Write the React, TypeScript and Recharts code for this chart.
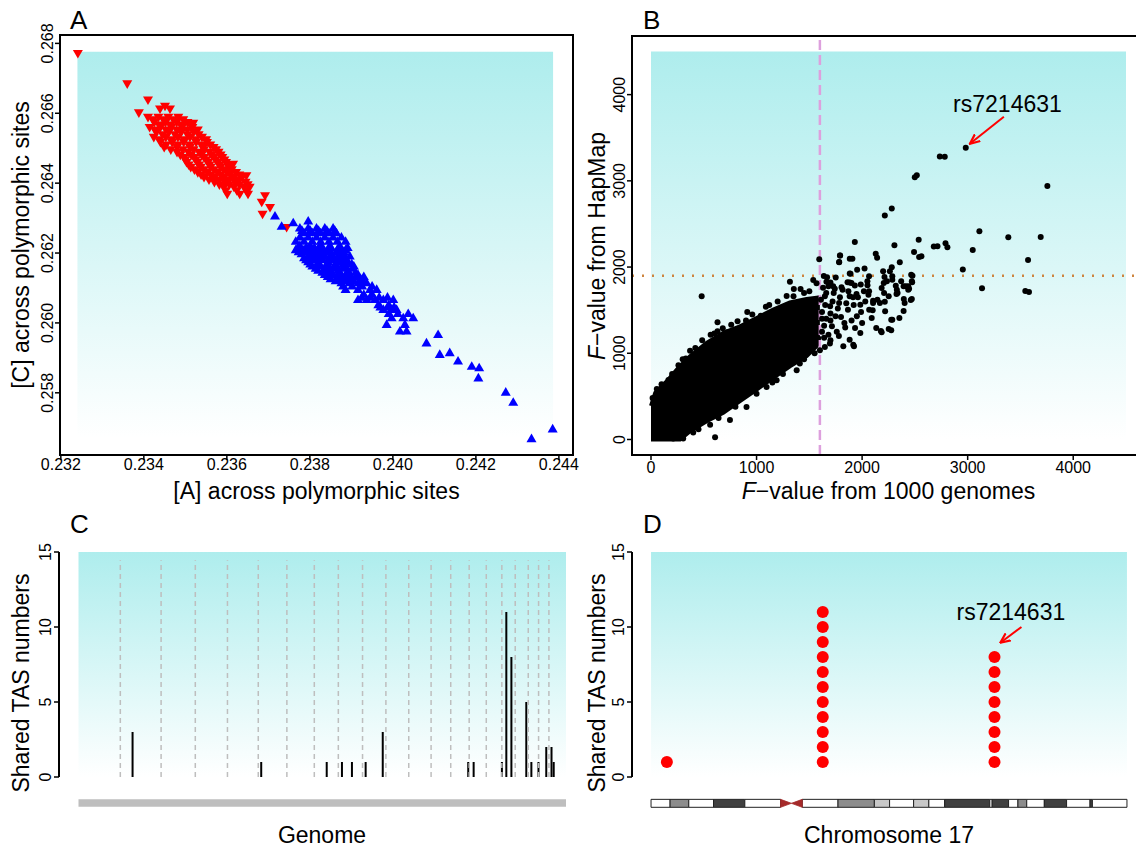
import React from "react";
import {
  ComposedChart,
  Scatter,
  Area,
  Bar,
  XAxis,
  YAxis,
  ReferenceArea,
  ReferenceLine,
} from "recharts";

const FONT = '"Liberation Sans", Arial, Helvetica, sans-serif';
const TOP = "#AEEDED";

// ---------- A: base composition, [A] vs [C]
const redA: number[][] = [
  [0.23241, 0.26773], [0.2336, 0.26686], [0.2341, 0.2664], [0.23388, 0.26603], [0.23519, 0.26573],
  [0.23439, 0.26614], [0.23463, 0.26614], [0.23451, 0.26622],
  [0.2341, 0.2659], [0.23435, 0.2659], [0.23459, 0.2659], [0.23483, 0.2659],
  [0.23422, 0.26583], [0.23447, 0.26583], [0.23471, 0.26583], [0.23495, 0.26583],
  [0.23425, 0.26575], [0.23452, 0.26575], [0.23479, 0.26575], [0.23505, 0.26575],
  [0.23438, 0.26568], [0.23465, 0.26568], [0.23492, 0.26568], [0.23512, 0.26568],
  [0.23414, 0.26561], [0.2344, 0.26561], [0.23466, 0.26561], [0.23492, 0.26561], [0.23517, 0.26561],
  [0.23427, 0.26554], [0.23453, 0.26554], [0.23479, 0.26554], [0.23505, 0.26554], [0.2353, 0.26554],
  [0.2343, 0.26547], [0.2346, 0.26547], [0.2349, 0.26547], [0.2352, 0.26547],
  [0.23445, 0.2654], [0.23475, 0.2654], [0.23505, 0.2654], [0.23532, 0.2654],
  [0.23424, 0.26533], [0.23453, 0.26533], [0.23482, 0.26533], [0.23511, 0.26533], [0.2354, 0.26533],
  [0.23438, 0.26526], [0.23467, 0.26526], [0.23496, 0.26526], [0.23525, 0.26526], [0.2355, 0.26526],
  [0.2344, 0.26518], [0.23468, 0.26518], [0.23496, 0.26518], [0.23526, 0.26518], [0.23552, 0.26518],
  [0.23454, 0.26511], [0.23482, 0.26511], [0.23511, 0.26511], [0.23539, 0.26511], [0.2356, 0.26511],
  [0.23449, 0.26504], [0.2348, 0.26504], [0.23511, 0.26504], [0.23542, 0.26504], [0.23568, 0.26504],
  [0.23465, 0.26497], [0.23494, 0.26497], [0.2352, 0.26497], [0.23545, 0.26497], [0.23574, 0.26497],
  [0.2348, 0.2649], [0.23507, 0.2649], [0.23533, 0.2649], [0.23558, 0.2649], [0.2358, 0.2649],
  [0.23488, 0.26482], [0.23514, 0.26482], [0.23539, 0.26482], [0.23563, 0.26482], [0.23585, 0.26482],
  [0.23497, 0.26475], [0.23521, 0.26475], [0.23545, 0.26475], [0.23569, 0.26475], [0.23589, 0.26475],
  [0.235, 0.26468], [0.23525, 0.26468], [0.2355, 0.26468], [0.23573, 0.26468], [0.23594, 0.26468],
  [0.23503, 0.26461], [0.23529, 0.26461], [0.23555, 0.26461], [0.23578, 0.26461], [0.23598, 0.26461],
  [0.23508, 0.26454], [0.23533, 0.26454], [0.23558, 0.26454], [0.23582, 0.26454], [0.23602, 0.26454],
  [0.23513, 0.26447], [0.23537, 0.26447], [0.23561, 0.26447], [0.23585, 0.26447], [0.23605, 0.26447],
  [0.23522, 0.2644], [0.23545, 0.2644], [0.23569, 0.2644], [0.23592, 0.2644], [0.23612, 0.2644],
  [0.2353, 0.26432], [0.23553, 0.26432], [0.23577, 0.26432], [0.236, 0.26432], [0.23622, 0.26432],
  [0.23538, 0.26425], [0.23561, 0.26425], [0.23585, 0.26425], [0.23608, 0.26425], [0.2363, 0.26425],
  [0.23545, 0.26418], [0.23569, 0.26418], [0.23593, 0.26418], [0.23617, 0.26418], [0.23637, 0.26418],
  [0.23557, 0.26411], [0.23582, 0.26411], [0.23606, 0.26411], [0.2363, 0.26411],
  [0.2357, 0.26404], [0.23595, 0.26404], [0.2362, 0.26404], [0.23645, 0.26404],
  [0.23582, 0.26397], [0.23606, 0.26397], [0.2363, 0.26397], [0.2365, 0.26397],
  [0.23593, 0.2639], [0.23617, 0.2639], [0.23641, 0.2639], [0.23655, 0.2639],
  [0.23597, 0.2638], [0.23624, 0.2638], [0.23647, 0.2638],
  [0.23601, 0.2637], [0.23631, 0.2637], [0.23651, 0.2637],
  [0.23615, 0.26456], [0.23647, 0.26423], [0.23692, 0.26366], [0.23684, 0.26347],
  [0.23704, 0.26332], [0.23686, 0.26313], [0.23744, 0.26275],
];

const blueA: number[][] = [
  [0.23716, 0.26304], [0.23732, 0.26275], [0.2376, 0.26285], [0.23796, 0.2629],
  [0.23776, 0.2627], [0.23796, 0.2627], [0.23816, 0.2627], [0.23836, 0.2627], [0.23856, 0.2627],
  [0.23781, 0.26263], [0.23801, 0.26263], [0.23821, 0.26263], [0.23841, 0.26263], [0.2386, 0.26263],
  [0.23786, 0.26256], [0.23806, 0.26256], [0.23826, 0.26256], [0.23846, 0.26256], [0.23864, 0.26256],
  [0.23776, 0.26244], [0.23796, 0.26244], [0.23816, 0.26244], [0.23836, 0.26244], [0.23856, 0.26244], [0.23876, 0.26244],
  [0.23766, 0.26232], [0.23786, 0.26232], [0.23806, 0.26232], [0.23826, 0.26232], [0.23846, 0.26232], [0.23866, 0.26232], [0.23886, 0.26232],
  [0.23776, 0.2622], [0.238, 0.2622], [0.23824, 0.2622], [0.23848, 0.2622], [0.23872, 0.2622],
  [0.23771, 0.26214], [0.23791, 0.26214], [0.23811, 0.26214], [0.23831, 0.26214], [0.23851, 0.26214], [0.23871, 0.26214], [0.23891, 0.26214],
  [0.23766, 0.26208], [0.23786, 0.26208], [0.23806, 0.26208], [0.23826, 0.26208], [0.23846, 0.26208], [0.23866, 0.26208], [0.23886, 0.26208],
  [0.23773, 0.26202], [0.23792, 0.26202], [0.23816, 0.26202], [0.2384, 0.26202], [0.23864, 0.26202], [0.23882, 0.26202],
  [0.2378, 0.26196], [0.23804, 0.26196], [0.23828, 0.26196], [0.23852, 0.26196], [0.23876, 0.26196],
  [0.23796, 0.2619], [0.23816, 0.2619], [0.23836, 0.2619], [0.23856, 0.2619], [0.23876, 0.2619], [0.23896, 0.2619],
  [0.23786, 0.26185], [0.23806, 0.26185], [0.23826, 0.26185], [0.23846, 0.26185], [0.23866, 0.26185], [0.23886, 0.26185],
  [0.23791, 0.26179], [0.23811, 0.26179], [0.23831, 0.26179], [0.23856, 0.26179], [0.2388, 0.26179],
  [0.23796, 0.26173], [0.2382, 0.26173], [0.23844, 0.26173], [0.23868, 0.26173], [0.23892, 0.26173],
  [0.23801, 0.26167], [0.23821, 0.26167], [0.23841, 0.26167], [0.23861, 0.26167], [0.23881, 0.26167], [0.23901, 0.26167],
  [0.23806, 0.26161], [0.23826, 0.26161], [0.23846, 0.26161], [0.23866, 0.26161], [0.23886, 0.26161], [0.23906, 0.26161],
  [0.23814, 0.26155], [0.23836, 0.26155], [0.23856, 0.26155], [0.2388, 0.26155], [0.23904, 0.26155],
  [0.2382, 0.26149], [0.23844, 0.26149], [0.23868, 0.26149], [0.23892, 0.26149],
  [0.2383, 0.26143], [0.2385, 0.26143], [0.2387, 0.26143], [0.2389, 0.26143], [0.2391, 0.26143],
  [0.23836, 0.26137], [0.23856, 0.26137], [0.23876, 0.26137], [0.23896, 0.26137], [0.23916, 0.26137],
  [0.23843, 0.26131], [0.23866, 0.26131], [0.23886, 0.26131], [0.2391, 0.26131], [0.2393, 0.26131],
  [0.2385, 0.26125], [0.23874, 0.26125], [0.23898, 0.26125], [0.23922, 0.26125],
  [0.23862, 0.26119], [0.23886, 0.26119], [0.23906, 0.26119], [0.23928, 0.26119],
  [0.23876, 0.26113], [0.23896, 0.26113], [0.23916, 0.26113], [0.23937, 0.26113],
  [0.2388, 0.26104], [0.23902, 0.26104], [0.23926, 0.26104], [0.2395, 0.26104],
  [0.23886, 0.26094], [0.23916, 0.26094], [0.23945, 0.26094], [0.23961, 0.26094],
  [0.2393, 0.2608], [0.2395, 0.2608],
  [0.23925, 0.26072], [0.23945, 0.26072], [0.23967, 0.26072], [0.23987, 0.26072],
  [0.23916, 0.26065], [0.23937, 0.26065], [0.23957, 0.26065], [0.23977, 0.26065], [0.24001, 0.26065],
  [0.23965, 0.2605], [0.2399, 0.2605],
  [0.2397, 0.26044], [0.23988, 0.26044], [0.24003, 0.26044],
  [0.23977, 0.26037], [0.23997, 0.26037], [0.24009, 0.26037],
  [0.2399, 0.26025], [0.24012, 0.26025], [0.24037, 0.26025],
  [0.23997, 0.26013], [0.24025, 0.26013], [0.24049, 0.26013],
  [0.23985, 0.25994], [0.24029, 0.25994], [0.24017, 0.25975], [0.24033, 0.25975],
  [0.24081, 0.25941], [0.24109, 0.25965], [0.24113, 0.25908], [0.24137, 0.25913],
  [0.24157, 0.25889], [0.2419, 0.25874], [0.24208, 0.2587], [0.24206, 0.25841],
  [0.24272, 0.258], [0.2429, 0.25771], [0.24334, 0.25667], [0.24385, 0.25695],
];

const ticksAX = [0.232, 0.234, 0.236, 0.238, 0.24, 0.242, 0.244];
const ticksAY = [0.258, 0.26, 0.262, 0.264, 0.266, 0.268];

// ---------- B: F-values, 1000 genomes vs HapMap
// dense core of the cloud: x, lower edge, upper edge
const coreX = [0, 40, 150, 245, 275, 370, 527, 685, 843, 1001, 1158, 1316, 1474, 1569, 1600];
const coreLo = [0, 0, 0, 0, 0, 96, 212, 309, 444, 579, 715, 849, 965, 1081, 1200];
const coreHi = [390, 540, 676, 811, 850, 965, 1120, 1236, 1313, 1410, 1506, 1590, 1630, 1645, 1650];

const pointsB: number[][] = [
  [480, 1660], [607, 25],
  [15, 480], [55, 585], [165, 690], [300, 930], [370, 1030], [485, 1150], [565, 1215], [630, 1255],
  [630, 1360], [722, 1245], [912, 1480], [1088, 1540], [1040, 1435], [900, 1380], [1316, 1830],
  [1353, 1745], [1417, 1745], [1285, 1665], [1537, 1850], [1568, 1812], [1594, 2090], [1790, 2135],
  [1783, 2060], [1883, 2097], [1637, 1895], [1662, 1830], [1883, 1925],
  [100, 640], [200, 760], [260, 860], [330, 940], [420, 1060], [600, 1230], [680, 1290], [760, 1330],
  [820, 1370], [960, 1450], [1120, 1560], [1200, 1600], [1350, 1660], [1450, 1700], [1500, 1720],
  [210, 10], [305, 10], [748, 225], [905, 378], [1095, 610], [1190, 688], [1380, 802], [1410, 880],
  [1520, 1035], [1600, 1035], [1647, 1073], [1695, 1112],
  [400, 80], [450, 120], [560, 170], [640, 250], [800, 380], [1000, 530], [1150, 660], [1250, 760],
  [1450, 930], [1550, 1000],
  [1620, 1250], [1640, 1320], [1660, 1400], [1620, 1480], [1650, 1560], [1700, 1380], [1700, 1460],
  [1720, 1600], [1760, 1250], [1770, 1520], [1790, 1650], [1800, 1420], [1840, 1300], [1850, 1580],
  [1870, 1720], [1900, 1380], [1920, 1560], [1960, 1650], [1990, 1480], [2000, 1350], [2030, 1600],
  [2060, 1680], [2100, 1500], [1640, 1180], [1700, 1150], [1780, 1200], [1610, 1620], [1660, 1700],
  [1630, 1760], [1700, 1820], [1750, 1880], [1620, 1400],
  [1647, 1660], [1681, 1776], [1697, 1544], [1731, 1699], [1748, 1429], [1782, 1583], [1815, 1737],
  [1832, 1351], [1866, 1506], [1882, 1660], [1899, 1815], [1933, 1293], [1950, 1429], [1983, 1564],
  [2017, 1718], [2050, 1834], [2067, 1506], [2091, 1409], [2134, 1293], [2168, 1583], [2185, 1757],
  [2218, 1486], [2252, 1660], [2286, 1390], [2329, 1737], [2370, 1834], [2403, 1583], [2437, 1737],
  [2471, 1629], [2393, 1490], [2252, 1282], [2185, 1243], [2276, 1266], [2178, 1259], [1923, 1081],
  [1822, 1081], [1916, 1100], [1681, 1216], [1714, 1313], [1882, 1158], [1983, 1236], [2353, 1409],
  [2276, 1390], [2104, 1583], [2145, 1622], [2208, 1699], [2336, 1699], [2319, 1784], [2393, 1776],
  [2437, 1776], [2471, 1834], [2286, 1853], [2286, 1892], [2235, 1834], [2205, 1815], [2212, 1884],
  [2982, 3384], [2736, 3282], [2783, 3279], [2499, 3042], [2518, 3065], [3755, 2940], [2215, 2598],
  [2281, 2680], [3111, 2415], [3385, 2345], [3692, 2349], [1931, 2291], [2536, 2318], [2306, 2252],
  [2679, 2237], [2714, 2240], [2790, 2275], [2808, 2229], [3048, 2198], [3572, 2081], [2954, 1972],
  [3136, 1754], [3546, 1723], [3581, 1712], [2492, 2174], [2540, 2116], [2562, 2124], [2357, 2057],
  [1792, 2135], [1782, 2057], [1908, 2097], [2023, 1984], [2129, 2155], [2142, 2108], [2281, 1999],
  [2263, 1952], [1890, 1922], [2465, 1910], [2477, 1898], [1953, 1968], [1668, 1882], [2066, 1894],
  [2199, 1952], [2474, 1824], [2414, 1777], [2445, 1747], [2326, 1688], [2395, 1630], [2461, 1618],
  [2215, 1599], [1883, 1820], [1987, 1797], [1931, 1785], [1947, 1688], [1914, 1649], [1726, 1777],
  [1741, 1747], [1805, 1766], [1862, 1824], [2051, 1789], [2066, 1719], [2104, 1610],
];
const ticksB = [0, 1000, 2000, 3000, 4000];
const cutoff1000G = 1600;
const cutoffHapMap = 1900;
const snpB = { label: "rs7214631", x: 3377, y: 3801 };
const arrowB = [[3343, 3743], [3021, 3430]];

// ---------- C: shared TAS numbers along the genome (Mb)
const chrEnds = [247, 488, 690, 880, 1062, 1231, 1393, 1535, 1678, 1816, 1951, 2083, 2199, 2308, 2409, 2501, 2580, 2657, 2718, 2779];
const genomeLen = 2880;
const tasPos = [320, 1080, 1467, 1557, 1616, 1697, 1798, 2303, 2335, 2502, 2528, 2558, 2646, 2676, 2718, 2764, 2795, 2808];
const tasNum = [3, 1, 1, 1, 1, 1, 3, 1, 1, 1, 11, 8, 5, 1, 1, 2, 2, 1];
const ticksTAS = [0, 5, 10, 15];

// ---------- D: chromosome 17 (Mb)
const chr17Pos = [2.7, 29.3, 58.6];
const chr17Num = [1, 11, 8];
const chr17Len = 81.2;
const snpD = { label: "rs7214631", x: 61.4, y: 10.47 };
const arrowD = [[63.2, 10.0], [59.6, 8.95]];
const bandStart = [0, 3.25, 6.44, 10.66, 16.0, 25.8, 31.9, 38.1, 40.7, 44.8, 47.4, 50.1, 57.8, 58.2, 61.0, 62.6, 64.1, 67.1, 70.9, 74.9, 75.3];
const bandEnd = [3.25, 6.44, 10.66, 16.0, 22.1, 31.9, 38.1, 40.7, 44.8, 47.4, 50.1, 57.8, 58.2, 61.0, 62.6, 64.1, 67.1, 70.9, 74.9, 75.3, 81.2];
const bandStain = ["gneg", "gpos50", "gneg", "gpos75", "gneg", "gneg", "gpos50", "gpos25", "gneg", "gpos25", "gneg", "gpos75", "gneg", "gpos75", "gneg", "gpos50", "gneg", "gpos75", "gneg", "gpos75", "gneg"];
const centromere = [22.1, 25.8];

const STAIN: Record<string, string> = { gneg: "#FFFFFF", gpos25: "#C8C8C8", gpos50: "#8C8C8C", gpos75: "#404040" };

const ptsRed = redA.map(([x, y]) => ({ x, y }));
const ptsBlue = blueA.map(([x, y]) => ({ x, y }));
const ptsB = pointsB.map(([x, y]) => ({ x, y }));
const coreData = coreX.map((x, i) => ({ x, band: [coreLo[i], coreHi[i]] }));
const barData = tasPos.map((x, i) => ({ x, n: tasNum[i] }));
const dotsD = chr17Pos.flatMap((x, i) => Array.from({ length: chr17Num[i] }, (_, k) => ({ x, y: k + 1 })));

const xTick = (fmt: (v: number) => string, dy: number) => (p: any) => (
  <text x={p.x} y={p.y + dy} textAnchor="middle" fontSize={16} fontFamily={FONT} fill="#000">
    {fmt(p.payload.value)}
  </text>
);
const yTick = (fmt: (v: number) => string) => (p: any) => (
  <text x={p.x} y={p.y} transform={`rotate(-90 ${p.x} ${p.y})`} textAnchor="middle" fontSize={16} fontFamily={FONT} fill="#000">
    {fmt(p.payload.value)}
  </text>
);
const triDown = (p: any) => (
  <path d={`M${p.cx - 5},${p.cy - 2.9}L${p.cx + 5},${p.cy - 2.9}L${p.cx},${p.cy + 5.7}Z`} fill="#FF0000" />
);
const triUp = (p: any) => (
  <path d={`M${p.cx - 5},${p.cy + 2.9}L${p.cx + 5},${p.cy + 2.9}L${p.cx},${p.cy - 5.7}Z`} fill="#0000FF" />
);
const dot = (r: number, fill: string) => (p: any) => <circle cx={p.cx} cy={p.cy} r={r} fill={fill} />;
const labelShape = (p: any) => (
  <text x={p.cx} y={p.cy} textAnchor="middle" fontSize={23} fontFamily={FONT} fill="#000">
    {p.payload.label}
  </text>
);

function Defs({ id }: { id: string }) {
  return (
    <defs>
      <linearGradient id={"g" + id} x1="0" y1="0" x2="0" y2="1">
        <stop offset="0" stopColor={TOP} />
        <stop offset="1" stopColor="#FFFFFF" />
      </linearGradient>
      <marker id={"arr" + id} viewBox="0 0 10 10" refX="9" refY="5" markerWidth="11" markerHeight="11" markerUnits="userSpaceOnUse" orient="auto">
        <path d="M0,1 L9,5 L0,9" fill="none" stroke="#FF0000" strokeWidth="2" />
      </marker>
    </defs>
  );
}

function Lab({ x, y, size = 23, rot = false, children }: any) {
  return (
    <div
      style={{
        position: "absolute", left: x, top: y, fontSize: size, lineHeight: 1, whiteSpace: "nowrap",
        transform: `translate(-50%, -50%)${rot ? " rotate(-90deg)" : ""}`, fontFamily: FONT, color: "#000",
      }}
    >
      {children}
    </div>
  );
}
function Letter({ x, y, children }: any) {
  return (
    <div style={{ position: "absolute", left: x, top: y, fontSize: 26, lineHeight: 1, fontFamily: FONT }}>{children}</div>
  );
}

const tickLine = { stroke: "#000", strokeWidth: 1.5 };
const dA = { x: [0.23198, 0.24434], y: [0.25622, 0.26824] };
const dB = [-180, 4680];
const dC = [-genomeLen * 0.04, genomeLen * 1.04];
const dD = [-chr17Len * 0.04, chr17Len * 1.04];
const dTAS = [-2.5, 15];

function PanelA() {
  return (
    <ComposedChart width={600} height={520} margin={{ top: 35, right: 27, bottom: 25, left: 10 }}>
      <Defs id="A" />
      <XAxis type="number" dataKey="x" domain={dA.x} ticks={ticksAX} interval={0} allowDataOverflow height={40}
        axisLine={false} tickLine={tickLine} tickSize={5} tickMargin={0} tick={xTick((v) => v.toFixed(3), 10)} />
      <YAxis type="number" dataKey="y" domain={dA.y} ticks={ticksAY} interval={0} allowDataOverflow width={50}
        axisLine={false} tickLine={tickLine} tickSize={5} tickMargin={2} tick={yTick((v) => v.toFixed(3))} />
      <ReferenceArea x1={0.2324} x2={0.24386} y1={0.2567} y2={0.26776} fill="url(#gA)" fillOpacity={1} stroke="none" zIndex={-50} />
      <Scatter data={ptsRed} shape={triDown} isAnimationActive={false} />
      <Scatter data={ptsBlue} shape={triUp} isAnimationActive={false} />
      <ReferenceArea x1={dA.x[0]} x2={dA.x[1]} y1={dA.y[0]} y2={dA.y[1]} fill="none" stroke="#000" strokeWidth={2} zIndex={1000} />
    </ComposedChart>
  );
}

function PanelB() {
  return (
    <ComposedChart width={600} height={520} data={coreData} margin={{ top: 36, right: 35, bottom: 25, left: 2 }}>
      <Defs id="B" />
      <XAxis type="number" dataKey="x" domain={dB} ticks={ticksB} interval={0} allowDataOverflow height={40}
        axisLine={false} tickLine={tickLine} tickSize={5} tickMargin={0} tick={xTick((v) => String(v), 13)} />
      <YAxis type="number" dataKey="y" domain={dB} ticks={ticksB} interval={0} allowDataOverflow width={50}
        axisLine={false} tickLine={tickLine} tickSize={5} tickMargin={2} tick={yTick((v) => String(v))} />
      <ReferenceArea x1={0} x2={4500} y1={0} y2={4500} fill="url(#gB)" fillOpacity={1} stroke="none" zIndex={-50} />
      <Area dataKey="band" type="linear" fill="#000" fillOpacity={1} stroke="#000" strokeWidth={4} isAnimationActive={false} dot={false} activeDot={false} />
      <Scatter data={ptsB} shape={dot(3, "#000")} isAnimationActive={false} />
      <ReferenceLine x={cutoff1000G} stroke="#DDA0DD" strokeWidth={2.5} strokeDasharray="10 5" />
      <ReferenceLine y={cutoffHapMap} stroke="#CD853F" strokeWidth={2.5} strokeDasharray="2 8" />
      <ReferenceLine segment={[{ x: arrowB[0][0], y: arrowB[0][1] }, { x: arrowB[1][0], y: arrowB[1][1] }]}
        stroke="#FF0000" strokeWidth={2} markerEnd="url(#arrB)" ifOverflow="visible" />
      <Scatter data={[snpB]} shape={labelShape} isAnimationActive={false} />
      <ReferenceArea x1={dB[0]} x2={dB[1]} y1={dB[0]} y2={dB[1]} fill="none" stroke="#000" strokeWidth={2} zIndex={1000} />
    </ComposedChart>
  );
}

function PanelC() {
  return (
    <ComposedChart width={600} height={367} data={barData} margin={{ top: 72, right: 14.5, bottom: 32.5, left: 9 }}>
      <Defs id="C" />
      <XAxis type="number" dataKey="x" domain={dC} allowDataOverflow hide />
      <YAxis type="number" domain={dTAS} ticks={ticksTAS} interval={0} allowDataOverflow width={50}
        axisLine={false} tickLine={tickLine} tickSize={5} tickMargin={3} tick={yTick((v) => String(v))} />
      <ReferenceArea x1={0} x2={genomeLen} y1={0} y2={15} fill="url(#gC)" fillOpacity={1} stroke="none" zIndex={-50} />
      {chrEnds.map((b) => (
        <ReferenceLine key={b} segment={[{ x: b, y: 0 }, { x: b, y: 14.45 }]} stroke="#BEBEBE" strokeWidth={1.5} strokeDasharray="5 4" />
      ))}
      <Bar dataKey="n" barSize={2} fill="#000" isAnimationActive={false} />
      <ReferenceArea x1={0} x2={genomeLen} y1={-1.98} y2={-1.49} fill="#BEBEBE" fillOpacity={1} stroke="none" />
      <ReferenceLine segment={[{ x: dC[0], y: 0 }, { x: dC[0], y: 15 }]} stroke="#000" strokeWidth={2} ifOverflow="visible" />
    </ComposedChart>
  );
}

function PanelD() {
  return (
    <ComposedChart width={600} height={367} margin={{ top: 72, right: 34, bottom: 32.5, left: 2 }}>
      <Defs id="D" />
      <XAxis type="number" dataKey="x" domain={dD} allowDataOverflow hide />
      <YAxis type="number" dataKey="y" domain={dTAS} ticks={ticksTAS} interval={0} allowDataOverflow width={50}
        axisLine={false} tickLine={tickLine} tickSize={5} tickMargin={3} tick={yTick((v) => String(v))} />
      <ReferenceArea x1={0} x2={chr17Len} y1={0} y2={15} fill="url(#gD)" fillOpacity={1} stroke="none" zIndex={-50} />
      <Scatter data={dotsD} shape={dot(6, "#FF0000")} isAnimationActive={false} />
      <ReferenceLine segment={[{ x: arrowD[0][0], y: arrowD[0][1] }, { x: arrowD[1][0], y: arrowD[1][1] }]}
        stroke="#FF0000" strokeWidth={2} markerEnd="url(#arrD)" ifOverflow="visible" />
      <Scatter data={[snpD]} shape={labelShape} isAnimationActive={false} />
      {bandStart.map((s, i) => (
        <ReferenceArea key={s} x1={s} x2={bandEnd[i]} y1={-2.02} y2={-1.49} fill={STAIN[bandStain[i]]} fillOpacity={1} stroke="#222" strokeWidth={1} />
      ))}
      <ReferenceArea x1={centromere[0]} x2={centromere[1]} y1={-2.02} y2={-1.49}
        shape={(p: any) => {
          const { x, y, width: w, height: h } = p;
          return (
            <path d={`M${x},${y}L${x + w / 2},${y + h / 2}L${x},${y + h}Z M${x + w},${y}L${x + w / 2},${y + h / 2}L${x + w},${y + h}Z`}
              fill="#A52A2A" stroke="#A52A2A" strokeWidth={0.8} />
          );
        }} />
      <ReferenceLine segment={[{ x: dD[0], y: 0 }, { x: dD[0], y: 15 }]} stroke="#000" strokeWidth={2} ifOverflow="visible" />
    </ComposedChart>
  );
}

export default function App() {
  return (
    <div style={{ position: "fixed", left: 0, top: 0, width: 1136, height: 847, overflow: "hidden", background: "#fff", fontFamily: FONT }}>
      <div style={{ position: "absolute", left: 0, top: 0 }}><PanelA /></div>
      <div style={{ position: "absolute", left: 580, top: 0 }}><PanelB /></div>
      <div style={{ position: "absolute", left: 0, top: 480 }}><PanelC /></div>
      <div style={{ position: "absolute", left: 580, top: 480 }}><PanelD /></div>

      <Letter x={70} y={7}>A</Letter>
      <Letter x={643} y={7}>B</Letter>
      <Letter x={70} y={511}>C</Letter>
      <Letter x={643} y={511}>D</Letter>

      <Lab x={316.5} y={491}>[A] across polymorphic sites</Lab>
      <Lab x={21} y={245} rot>[C] across polymorphic sites</Lab>
      <Lab x={888.5} y={491}><i>F</i>−value from 1000 genomes</Lab>
      <Lab x={597} y={245.5} rot><i>F</i>−value from HapMap</Lab>
      <Lab x={21} y={683} rot>Shared TAS numbers</Lab>
      <Lab x={322} y={835}>Genome</Lab>
      <Lab x={597} y={683} rot>Shared TAS numbers</Lab>
      <Lab x={889} y={835}>Chromosome 17</Lab>
    </div>
  );
}
